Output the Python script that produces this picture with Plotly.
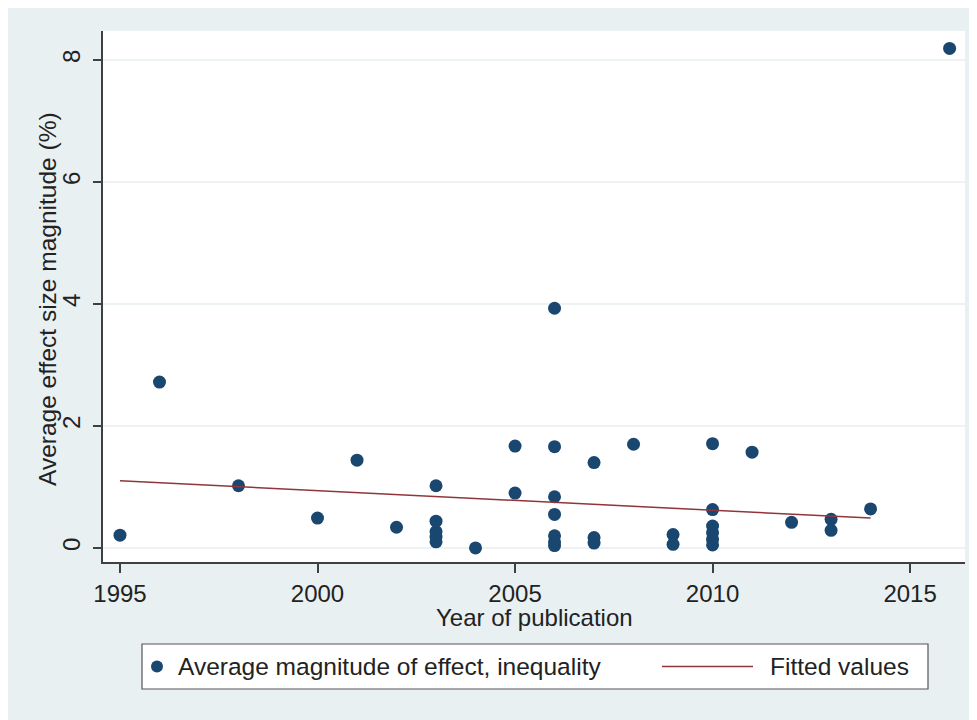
import plotly.graph_objects as go

# Data
years = [1995, 1996, 1998, 2000, 2001, 2002, 2003, 2003, 2003, 2003, 2003,
         2004, 2005, 2005, 2006, 2006, 2006, 2006, 2006, 2006, 2006,
         2007, 2007, 2007, 2008, 2009, 2009, 2010, 2010, 2010, 2010, 2010, 2010,
         2011, 2012, 2013, 2013, 2014, 2016]
values = [0.21, 2.72, 1.02, 0.49, 1.44, 0.34, 1.02, 0.44, 0.27, 0.18, 0.10,
          0.00, 1.67, 0.90, 3.93, 1.66, 0.84, 0.55, 0.20, 0.10, 0.04,
          1.40, 0.17, 0.08, 1.70, 0.22, 0.06, 1.71, 0.63, 0.36, 0.25, 0.14, 0.05,
          1.57, 0.42, 0.47, 0.29, 0.64, 8.19]

fit_years = [1995, 2014]
fit_values = [1.10, 0.49]

x_ticks = [1995, 2000, 2005, 2010, 2015]
y_ticks = [0, 2, 4, 6, 8]

series_names = ["Average magnitude of effect, inequality", "Fitted values"]
x_title = "Year of publication"
y_title = "Average effect size magnitude (%)"

BG = "#e8f0f2"
NAVY = "#1a476f"
MAROON = "#90353b"
AXIS = "#404040"
TEXT = "#222222"
FONT = "Liberation Sans, Arial, sans-serif"
FS = 24

# page has an 8px body margin; figure fills the rest of the 977x720 window
OFF = 8
W, H = 977 - OFF, 720 - OFF
PL, PR, PT, PB = 103, 965, 31, 562          # plot area in page pixels
ML, MR, MT, MB = PL - OFF, W + OFF - PR, PT - OFF, H + OFF - PB
PW, PH = PR - PL, PB - PT


def px_x(p):
    return (p - PL) / PW


def px_y(p):
    return (PB - p) / PH


fig = go.Figure()
fig.add_trace(go.Scatter(
    x=years, y=values, mode="markers", name=series_names[0],
    marker=dict(color=NAVY, size=13, line=dict(width=0)),
    showlegend=False,
))
fig.add_trace(go.Scatter(
    x=fit_years, y=fit_values, mode="lines", name=series_names[1],
    line=dict(color=MAROON, width=1.5),
    showlegend=False,
))

# Stata-style legend box below the plot
leg_y = 666.5
shapes = [
    dict(type="rect", xref="paper", yref="paper",
         x0=px_x(142), x1=px_x(928), y0=px_y(689), y1=px_y(644),
         fillcolor="white", line=dict(color="#555555", width=1.2)),
    dict(type="circle", xref="paper", yref="paper",
         x0=px_x(157 - 6), x1=px_x(157 + 6),
         y0=px_y(leg_y + 6), y1=px_y(leg_y - 6),
         fillcolor=NAVY, line=dict(width=0)),
    dict(type="line", xref="paper", yref="paper",
         x0=px_x(662), x1=px_x(753), y0=px_y(leg_y), y1=px_y(leg_y),
         line=dict(color=MAROON, width=1.5)),
]
annotations = [
    dict(xref="paper", yref="paper", x=px_x(176), y=px_y(leg_y),
         xanchor="left", yanchor="middle", showarrow=False,
         text=series_names[0], font=dict(size=24.5, color=TEXT)),
    dict(xref="paper", yref="paper", x=px_x(768), y=px_y(leg_y),
         xanchor="left", yanchor="middle", showarrow=False,
         text=series_names[1], font=dict(size=24.5, color=TEXT)),
    dict(xref="paper", yref="paper", x=px_x(534), y=px_y(617),
         xanchor="center", yanchor="middle", showarrow=False,
         text=x_title, font=dict(size=FS, color=TEXT)),
    dict(xref="paper", yref="paper", x=px_x(48), y=px_y(299),
         xanchor="center", yanchor="middle", showarrow=False, textangle=-90,
         text=y_title, font=dict(size=24.5, color=TEXT)),
]

fig.update_layout(
    width=W, height=H,
    margin=dict(l=ML, r=MR, t=MT, b=MB, autoexpand=False),
    paper_bgcolor=BG, plot_bgcolor="white",
    font=dict(family=FONT, size=FS, color=TEXT),
    showlegend=False,
    xaxis=dict(
        range=[1994.57, 2016.39], tickvals=x_ticks,
        showgrid=False, zeroline=False,
        showline=True, linecolor=AXIS, linewidth=1.5,
        ticks="outside", ticklen=9, tickcolor=AXIS, tickwidth=1.5,
        ticklabelstandoff=0,
        tickfont=dict(size=FS, color=TEXT),
        automargin=False,
    ),
    yaxis=dict(
        range=[-0.23, 8.475], tickvals=y_ticks,
        showgrid=True, gridcolor="#edf3f4", gridwidth=1.5, zeroline=False,
        showline=True, linecolor=AXIS, linewidth=1.5,
        ticks="outside", ticklen=8, tickcolor=AXIS, tickwidth=1.5,
        tickangle=-90, ticklabelstandoff=4,
        tickfont=dict(size=FS, color=TEXT),
        automargin=False,
    ),
    shapes=shapes,
    annotations=annotations,
)

fig.write_html("out.html")
